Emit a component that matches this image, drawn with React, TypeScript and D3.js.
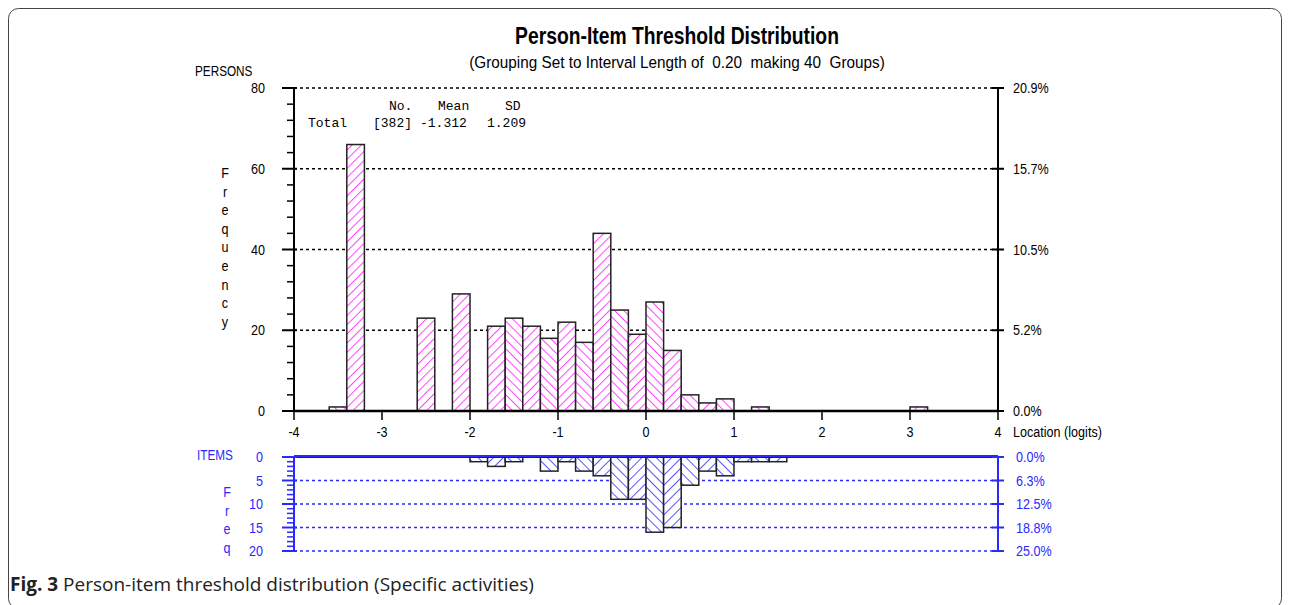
import React from "react";
import * as d3 from "d3";

// ---- data ----
const binStarts: number[] = d3.range(40).map((i) => -4 + i * 0.2);
// Person frequency per 0.2-logit group (40 groups from -4 to 4)
const personCounts: number[] = [
  0, 0, 1, 66, 0, 0, 0, 23, 0, 29,
  0, 21, 23, 21, 18, 22, 17, 44, 25, 19,
  27, 15, 4, 2, 3, 0, 1, 0, 0, 0,
  0, 0, 0, 0, 0, 1, 0, 0, 0, 0,
];
// Item threshold frequency per group
const itemCounts: number[] = [
  0, 0, 0, 0, 0, 0, 0, 0, 0, 0,
  1, 2, 1, 0, 3, 1, 3, 4, 9, 9,
  16, 15, 6, 3, 4, 1, 1, 1, 0, 0,
  0, 0, 0, 0, 0, 0, 0, 0, 0, 0,
];
const xTicks: number[] = [-4, -3, -2, -1, 0, 1, 2, 3, 4];
const personTicks: number[] = [0, 20, 40, 60, 80];
const itemTicks: number[] = [0, 5, 10, 15, 20];
const statsHeader: string[] = ["No.", "Mean", "SD"];
const statsRow: string[] = ["Total", "[382]", "-1.312", "1.209"];
const title = "Person-Item Threshold Distribution";
const subtitle = "(Grouping Set to Interval Length of  0.20  making 40  Groups)";

const NARROW = "'Liberation Sans Narrow', 'Arial Narrow', 'Liberation Sans', Arial, sans-serif";
const MONO = "'Liberation Mono', 'Courier New', monospace";
const BLUE = "#2a2aff";
const MAG = "#ff44ff";
const SQ = 0.84;

function NText(props: {
  x: number;
  y: number;
  size: number;
  fill?: string;
  anchor?: "start" | "middle" | "end";
  bold?: boolean;
  sx?: number;
  children: React.ReactNode;
}) {
  return (
    <text
      transform={`translate(${props.x},${props.y}) scale(${props.sx ?? SQ},1)`}
      textAnchor={props.anchor || "start"}
      fontFamily={NARROW}
      fontSize={props.size}
      fontWeight={props.bold ? "bold" : "normal"}
      fill={props.fill || "#000"}
      style={{ whiteSpace: "pre" }}
    >
      {props.children}
    </text>
  );
}

export default function App() {
  const x = d3.scaleLinear().domain([-4, 4]).range([294, 998]);
  const yP = d3.scaleLinear().domain([0, 80]).range([411, 88]);
  const yI = d3.scaleLinear().domain([0, 20]).range([457, 551]);
  const pTotal = d3.sum(personCounts);
  const iTotal = d3.sum(itemCounts);
  const bw = x(0.2) - x(0);
  const freqLetters = "Frequency".split("");
  const freqLetters2 = "Freq".split("");
  const minorP = d3.range(0, 81, 4).filter((v) => v % 20 !== 0);
  const minorI = d3.range(0, 21, 1).filter((v) => v % 5 !== 0);

  return (
    <svg
      width={1289}
      height={605}
      style={{ position: "absolute", left: 0, top: 0, background: "#fff" }}
      xmlns="http://www.w3.org/2000/svg"
    >
      <defs>
        <pattern id="pm1" width={6.5} height={6.5} patternUnits="userSpaceOnUse" patternTransform="rotate(45)">
          <rect width={6.5} height={6.5} fill="#fff" />
          <line x1={0} y1={0} x2={0} y2={6.5} stroke={MAG} strokeWidth={2} />
        </pattern>
        <pattern id="pm0" width={6.5} height={6.5} patternUnits="userSpaceOnUse" patternTransform="rotate(-45)">
          <rect width={6.5} height={6.5} fill="#fff" />
          <line x1={0} y1={0} x2={0} y2={6.5} stroke={MAG} strokeWidth={2} />
        </pattern>
        <pattern id="pb1" width={7} height={7} patternUnits="userSpaceOnUse" patternTransform="rotate(45)">
          <rect width={7} height={7} fill="#fff" />
          <line x1={0} y1={0} x2={0} y2={7} stroke={BLUE} strokeWidth={1.6} />
        </pattern>
        <pattern id="pb0" width={7} height={7} patternUnits="userSpaceOnUse" patternTransform="rotate(-45)">
          <rect width={7} height={7} fill="#fff" />
          <line x1={0} y1={0} x2={0} y2={7} stroke={BLUE} strokeWidth={1.6} />
        </pattern>
      </defs>

      {/* frame */}
      <rect x={8.5} y={8.5} width={1273} height={600} rx={10} fill="none" stroke="#444" strokeWidth={1} />

      {/* titles */}
      <NText x={677} y={44} size={23} anchor="middle" bold sx={0.84}>{title}</NText>
      <NText x={677} y={68} size={17} anchor="middle" sx={0.9}>{subtitle}</NText>
      <NText x={195} y={76} size={14}>PERSONS</NText>

      {/* person grid */}
      {personTicks.filter((t) => t > 0).map((t) => (
        <line key={"g" + t} x1={x(-4)} x2={x(4)} y1={yP(t)} y2={yP(t)} stroke="#000" strokeWidth={1.5} strokeDasharray="3,3" />
      ))}

      {/* stats */}
      <g fontFamily={MONO} fontSize={13} fill="#000">
        <text x={389} y={110}>{statsHeader[0]}</text>
        <text x={438} y={110}>{statsHeader[1]}</text>
        <text x={505} y={110}>{statsHeader[2]}</text>
        <text x={308} y={127}>{statsRow[0]}</text>
        <text x={373} y={127}>{statsRow[1]}</text>
        <text x={420} y={127}>{statsRow[2]}</text>
        <text x={487} y={127}>{statsRow[3]}</text>
      </g>

      {/* person bars */}
      {personCounts.map((c, i) =>
        c > 0 ? (
          <rect
            key={"p" + i}
            x={x(binStarts[i])}
            y={yP(c)}
            width={bw}
            height={yP(0) - yP(c)}
            fill={`url(#pm${i % 2})`}
            stroke="#222"
            strokeWidth={1.5}
          />
        ) : null
      )}

      {/* person axes */}
      <line x1={x(-4)} x2={x(-4)} y1={yP(80)} y2={yP(0)} stroke="#000" strokeWidth={2} />
      <line x1={x(4)} x2={x(4)} y1={yP(80)} y2={yP(0)} stroke="#000" strokeWidth={2} />
      <line x1={x(-4)} x2={x(4)} y1={yP(0)} y2={yP(0)} stroke="#000" strokeWidth={2.5} />
      {personTicks.map((t) => (
        <g key={"pt" + t}>
          <line x1={x(-4) - 12} x2={x(-4) + 3} y1={yP(t)} y2={yP(t)} stroke="#000" strokeWidth={2} />
          <line x1={x(4) - 6} x2={x(4) + 6} y1={yP(t)} y2={yP(t)} stroke="#000" strokeWidth={2} />
          <NText x={265} y={yP(t) + 5} size={15} anchor="end">{t}</NText>
          <NText x={1013} y={yP(t) + 5} size={15}>{((t / pTotal) * 100).toFixed(1) + "%"}</NText>
        </g>
      ))}
      {minorP.map((t) => (
        <line key={"pm" + t} x1={x(-4) - 7} x2={x(-4)} y1={yP(t)} y2={yP(t)} stroke="#000" strokeWidth={1.5} />
      ))}
      {xTicks.map((t) => (
        <g key={"xt" + t}>
          <line x1={x(t)} x2={x(t)} y1={yP(0)} y2={yP(0) + 9} stroke="#000" strokeWidth={1.5} />
          <NText x={x(t)} y={437} size={15} anchor="middle">{t}</NText>
        </g>
      ))}
      <NText x={1013} y={437} size={15}>Location (logits)</NText>
      {freqLetters.map((ch, i) => (
        <NText key={"f" + i} x={225} y={178 + i * 18.6} size={15} anchor="middle">{ch}</NText>
      ))}

      {/* item grid */}
      {itemTicks.filter((t) => t > 0).map((t) => (
        <line key={"ig" + t} x1={x(-4)} x2={x(4)} y1={yI(t)} y2={yI(t)} stroke={BLUE} strokeWidth={1.5} strokeDasharray="3,3" />
      ))}

      {/* item bars */}
      {itemCounts.map((c, i) =>
        c > 0 ? (
          <rect
            key={"i" + i}
            x={x(binStarts[i])}
            y={yI(0)}
            width={bw}
            height={yI(c) - yI(0)}
            fill={`url(#pb${i % 2})`}
            stroke="#222"
            strokeWidth={1.5}
          />
        ) : null
      )}

      {/* item axes */}
      <line x1={x(-4)} x2={x(4)} y1={yI(0) - 1} y2={yI(0) - 1} stroke={BLUE} strokeWidth={2} />
      <line x1={x(-4)} x2={x(4)} y1={yI(0) + 0.5} y2={yI(0) + 0.5} stroke="#222" strokeWidth={1} />
      <line x1={x(-4)} x2={x(-4)} y1={yI(0)} y2={yI(20)} stroke={BLUE} strokeWidth={2} />
      <line x1={x(4)} x2={x(4)} y1={yI(0)} y2={yI(20)} stroke={BLUE} strokeWidth={2} />
      {itemTicks.map((t) => (
        <g key={"it" + t}>
          <line x1={x(-4) - 12} x2={x(-4) + 3} y1={yI(t)} y2={yI(t)} stroke={BLUE} strokeWidth={2} />
          <line x1={x(4) - 6} x2={x(4) + 6} y1={yI(t)} y2={yI(t)} stroke={BLUE} strokeWidth={2} />
          <NText x={263} y={yI(t) + 5} size={15} anchor="end" fill={BLUE}>{t}</NText>
          <NText x={1016} y={yI(t) + 5} size={15} fill={BLUE}>{((t / iTotal) * 100).toFixed(1) + "%"}</NText>
        </g>
      ))}
      {minorI.map((t) => (
        <line key={"im" + t} x1={x(-4) - 7} x2={x(-4)} y1={yI(t)} y2={yI(t)} stroke={BLUE} strokeWidth={1.5} />
      ))}
      <NText x={197} y={460} size={14} fill={BLUE}>ITEMS</NText>
      {freqLetters2.map((ch, i) => (
        <NText key={"f2" + i} x={227} y={497 + i * 18.5} size={15} anchor="middle" fill={BLUE}>{ch}</NText>
      ))}

      {/* caption */}
      <text x={10} y={591} fontFamily="'Open Sans', 'Noto Sans', sans-serif" fontSize={19} fill="#222">
        <tspan fontWeight="bold">Fig. 3</tspan>
        <tspan> Person-item threshold distribution (Specific activities)</tspan>
      </text>
    </svg>
  );
}
